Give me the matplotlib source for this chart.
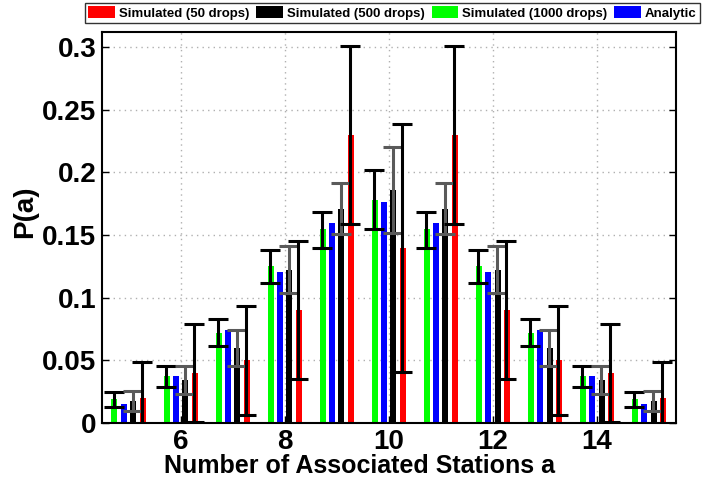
import matplotlib
matplotlib.use("Agg")
import matplotlib.pyplot as plt
import numpy as np
from matplotlib.patches import Patch

plt.rcParams['font.family'] = ['Liberation Sans', 'DejaVu Sans']
plt.rcParams['font.weight'] = 'bold'

stations = [5, 6, 7, 8, 9, 10, 11, 12, 13, 14, 15]

# Simulated (1000 drops) - green
sim1000 = [0.019, 0.0373, 0.0718, 0.1253, 0.155, 0.178, 0.155, 0.1253, 0.0718, 0.0373, 0.019]
sim1000_lo = [0.013, 0.029, 0.0612, 0.1115, 0.140, 0.1546, 0.140, 0.1115, 0.0612, 0.029, 0.013]
sim1000_hi = [0.0245, 0.0452, 0.083, 0.138, 0.168, 0.2017, 0.168, 0.138, 0.083, 0.0452, 0.0245]

# Analytic - blue
analytic = [0.0152, 0.0373, 0.074, 0.1205, 0.160, 0.1764, 0.160, 0.1205, 0.074, 0.0373, 0.0152]

# Simulated (500 drops) - black
sim500 = [0.0176, 0.0343, 0.0596, 0.1221, 0.1705, 0.186, 0.1705, 0.1221, 0.0596, 0.0343, 0.0176]
sim500_lo = [0.0093, 0.0229, 0.0458, 0.1035, 0.151, 0.152, 0.151, 0.1035, 0.0458, 0.0229, 0.0093]
sim500_hi = [0.0255, 0.0452, 0.0745, 0.1413, 0.1913, 0.220, 0.1913, 0.1413, 0.0745, 0.0452, 0.0255]

# Simulated (50 drops) - red
sim50 = [0.0202, 0.0399, 0.050, 0.090, 0.2298, 0.140, 0.2298, 0.090, 0.050, 0.0399, 0.0202]
sim50_lo = [-0.008, 0.0008, 0.0066, 0.035, 0.1586, 0.0405, 0.1586, 0.035, 0.0066, 0.0008, -0.008]
sim50_hi = [0.0487, 0.079, 0.0934, 0.1452, 0.301, 0.239, 0.301, 0.1452, 0.0934, 0.079, 0.0487]

yticks = [0, 0.05, 0.1, 0.15, 0.2, 0.25, 0.3]
yticklabels = ['0', '0.05', '0.1', '0.15', '0.2', '0.25', '0.3']
xticks = [6, 8, 10, 12, 14]

fig = plt.figure(figsize=(7.02, 4.83), dpi=100)
ax = fig.add_axes([0.1453, 0.1242, 0.8177, 0.8095])

x = np.array(stations, dtype=float)
w = 0.115
offs = [-0.27, -0.09, 0.09, 0.27]

series = [
    (sim1000, '#00ff00', sim1000_lo, sim1000_hi, 'black'),
    (analytic, '#0000ff', None, None, None),
    (sim500, 'black', sim500_lo, sim500_hi, '#5a5a5a'),
    (sim50, '#ff0000', sim50_lo, sim50_hi, 'black'),
]

for (vals, col, lo, hi, ecol), off in zip(series, offs):
    xx = x + off
    v = np.array(vals)
    ax.bar(xx, v, width=w, color=col, edgecolor='none', zorder=2)
    if lo is not None:
        lo = np.array(lo); hi = np.array(hi)
        ax.errorbar(xx - 0.01, v, yerr=[v - lo, hi - v], fmt='none', ecolor=ecol,
                    elinewidth=2.2, capsize=7.3, capthick=2.2, zorder=3, clip_on=True)

ax.set_xlim(4.49, 15.52)
ax.set_ylim(0, 0.312)
ax.set_yticks(yticks)
ax.set_yticklabels(yticklabels)
ax.set_xticks(xticks)
ax.tick_params(direction='in', length=5, width=1, labelsize=20, pad=4,
               top=False, right=True)
for lab in ax.get_xticklabels() + ax.get_yticklabels():
    lab.set_fontweight('bold')
ax.grid(True, linestyle=(0, (1, 3)), color='#b0b0b0', linewidth=1, zorder=0)
ax.set_axisbelow(True)
for s in ax.spines.values():
    s.set_linewidth(1.5)

ax.set_xlabel('Number of Associated Stations a', fontsize=18, fontweight='bold')
ax.xaxis.set_label_coords(0.448, -0.079)
ax.set_ylabel('P(a)', fontsize=20, fontweight='bold')
ax.yaxis.set_label_coords(-0.112, 0.54)

handles = [Patch(facecolor='#ff0000', edgecolor='none'),
           Patch(facecolor='black', edgecolor='none'),
           Patch(facecolor='#00ff00', edgecolor='none'),
           Patch(facecolor='#0000ff', edgecolor='none')]
labels = ['Simulated (50 drops)', 'Simulated (500 drops)', 'Simulated (1000 drops)', 'Analytic']
leg = fig.legend(handles, labels, loc='upper right', bbox_to_anchor=(0.997, 0.994), ncol=4,
                 prop={'weight': 'bold', 'size': 9.5}, frameon=True, fancybox=False,
                 borderpad=0.25, handlelength=2.0, handleheight=1.0, handletextpad=0.3,
                 columnspacing=0.55, borderaxespad=0.0)
leg.get_frame().set_edgecolor('black')
leg.get_frame().set_linewidth(1.0)

fig.savefig('out.png', dpi=100)
